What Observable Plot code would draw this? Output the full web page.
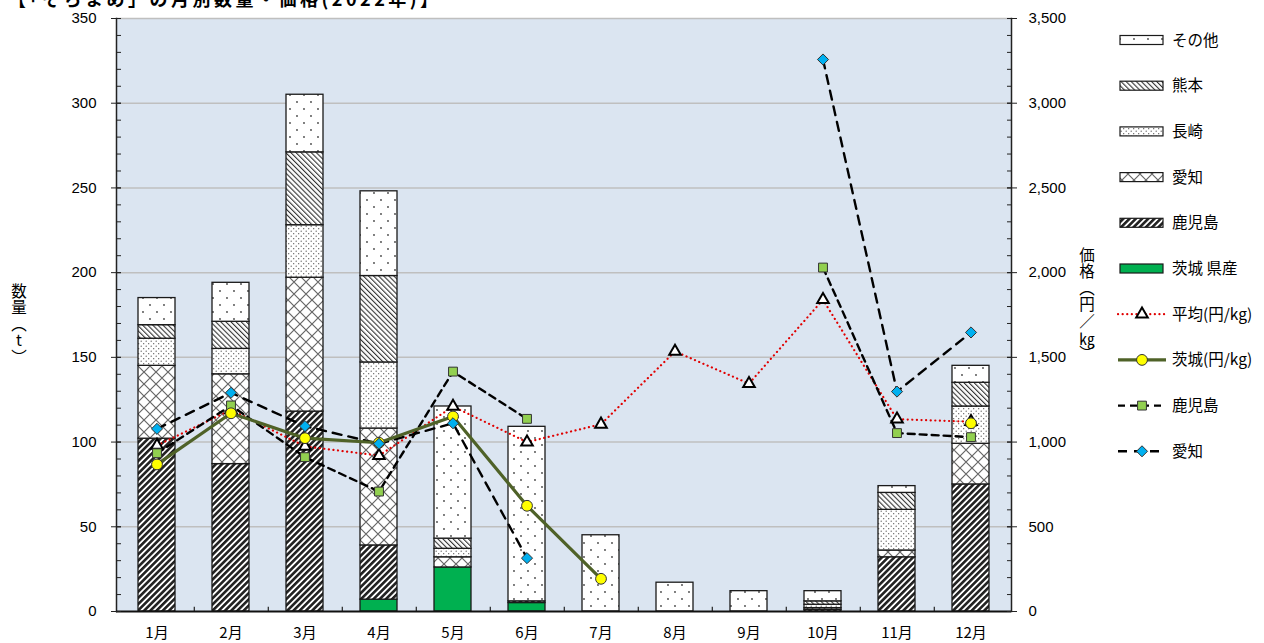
<!DOCTYPE html>
<html><head><meta charset="utf-8">
<script src="https://cdn.jsdelivr.net/npm/d3@7"></script>
<script src="https://cdn.jsdelivr.net/npm/@observablehq/plot@0.6"></script>
<style>
body{margin:0;background:#fff;overflow:hidden;font-family:"Liberation Sans","Noto Sans CJK JP",sans-serif;}
#wrap{position:relative;width:1264px;height:643px;overflow:hidden;}
#title{position:absolute;left:8px;top:-12px;font-family:"Noto Sans CJK JP";font-weight:bold;font-size:18px;letter-spacing:3.5px;line-height:20px;white-space:nowrap;z-index:2;}
#chart{position:absolute;left:0;top:0;}
.vlab{position:absolute;writing-mode:vertical-rl;text-orientation:upright;font-family:"Noto Sans CJK JP";font-size:15.5px;line-height:17px;letter-spacing:1px;}
#ylab{left:10px;top:283px;}
#y2lab{left:1078px;top:247px;}
#legend{position:absolute;left:1110px;top:0;}
</style></head><body>
<svg width="0" height="0" style="position:absolute"><defs>
<pattern id="pOther" width="14" height="14" patternUnits="userSpaceOnUse"><rect width="14" height="14" fill="#fff"/><circle cx="3" cy="4" r="0.9" fill="#444"/><circle cx="10" cy="11" r="0.9" fill="#444"/></pattern>
<pattern id="pKuma" width="3.6" height="3.6" patternUnits="userSpaceOnUse" patternTransform="rotate(-45)"><rect width="3.6" height="3.6" fill="#fff"/><rect width="1.1" height="3.6" fill="#333"/></pattern>
<pattern id="pNaga" width="5" height="5" patternUnits="userSpaceOnUse"><rect width="5" height="5" fill="#fff"/><circle cx="1.2" cy="1.2" r="0.65" fill="#555"/><circle cx="3.7" cy="3.7" r="0.65" fill="#555"/></pattern>
<pattern id="pAichi" width="12" height="12" patternUnits="userSpaceOnUse"><rect width="12" height="12" fill="#fff"/><path d="M0,0L12,12M12,0L0,12" stroke="#666" stroke-width="1.2"/></pattern>
<pattern id="pKago" width="4.4" height="4.4" patternUnits="userSpaceOnUse" patternTransform="rotate(45)"><rect width="4.4" height="4.4" fill="#fff"/><rect width="2.6" height="4.4" fill="#222"/></pattern>
</defs></svg>
<div id="wrap">
<div id="title">【「そらまめ」の月別数量・価格(2022年)】</div>
<div id="chart"></div>
<div id="ylab" class="vlab">数量（t）</div>
<div id="y2lab" class="vlab">価格（円／<span style="text-combine-upright:all">kg</span>）</div>
<div id="legend"></div>
</div>
<script>
// ---- data ----
const months = ["1月","2月","3月","4月","5月","6月","7月","8月","9月","10月","11月","12月"];
const seriesNames = ["茨城 県産","鹿児島","愛知","長崎","熊本","その他"];
const ibarakiT   = [0,0,0,7,26,5,0,0,0,0,0,0];
const kagoshimaT = [102,87,118,32,0,1,0,0,0,1,32,75];
const aichiT     = [43,53,79,69,6,0,0,0,0,1,4,24];
const nagasakiT  = [16,15,31,39,5,0,0,0,0,2,24,22];
const kumamotoT  = [8,16,43,51,6,0,0,0,0,2,10,14];
const otherT     = [16,23,34,50,78,103,45,17,12,6,4,10];
const avgPrice       = [980,1190,975,920,1210,1000,1105,1535,1345,1840,1135,1120];
const ibarakiPrice   = [868,1170,1023,996,1151,624,193,null,null,null,null,1111];
const kagoshimaPrice = [934,1216,911,708,1416,1137,null,null,null,2030,1053,1029];
const aichiPrice     = [1078,1291,1094,990,1111,315,null,null,null,3258,1298,1647];
const leftTicks = [0,50,100,150,200,250,300,350];
const priceTicks = [0,500,1000,1500,2000,2500,3000,3500];

// ---- layout ----
const W = 1264, H = 643, ML = 116, MR = 253, MT = 18, MB = 32;
const step = (W - ML - MR) / months.length;
const fills = ["#00b050","url(#pKago)","url(#pAichi)","url(#pNaga)","url(#pKuma)","url(#pOther)"];
const tonSeries = [ibarakiT,kagoshimaT,aichiT,nagasakiT,kumamotoT,otherT];
const bars = [];
months.forEach((m,i) => seriesNames.forEach((s,j) => {
  if (tonSeries[j][i] > 0) bars.push({month:m, series:s, value:tonSeries[j][i]});
}));
const ratio = 10; // right axis = left axis × 10
const price = arr => months.map((m,i) => ({month:m, v: arr[i] == null ? NaN : arr[i] / ratio}));
const pts = arr => price(arr).filter(d => !isNaN(d.v));
const fmt = d3.format(",");

const chart = Plot.plot({
  width: W, height: H, marginLeft: ML, marginRight: MR, marginTop: MT, marginBottom: MB,
  x: {type: "band", domain: months, paddingInner: 0.5, paddingOuter: 0.25, label: null},
  y: {domain: [0, 350], label: null},
  color: {type: "ordinal", domain: seriesNames, range: fills},
  style: {fontFamily: '"Liberation Sans","Noto Sans CJK JP",sans-serif', fontSize: "15px", color: "#000", background: "transparent", overflow: "visible"},
  marks: [
    Plot.frame({fill: "#dbe5f1"}),
    Plot.ruleY(d3.range(50, 351, 50), {stroke: "#bfbfbf", strokeWidth: 1.5}),
    Plot.barY(bars, {x: "month", y: "value", fill: "series", stroke: "#1a1a1a", strokeWidth: 1.3}),
    Plot.ruleX(months.slice(0, -1), {x: d => d, dx: step / 2, y1: 0, y2: 2.5, stroke: "#222", strokeWidth: 1.2}),
    // price lines
    Plot.line(price(avgPrice), {x: "month", y: "v", stroke: "#e00000", strokeWidth: 2.2, strokeDasharray: "0.1,4.5", strokeLinecap: "round"}),
    Plot.line(price(kagoshimaPrice), {x: "month", y: "v", stroke: "#000", strokeWidth: 2.4, strokeDasharray: "7,5"}),
    Plot.line(price(aichiPrice), {x: "month", y: "v", stroke: "#000", strokeWidth: 2.4, strokeDasharray: "9,7"}),
    Plot.line(price(ibarakiPrice), {x: "month", y: "v", stroke: "#4f6228", strokeWidth: 3.2}),
    Plot.dot(pts(avgPrice), {x: "month", y: "v", symbol: "triangle", r: 4.3, fill: "#fff", stroke: "#000", strokeWidth: 2}),
    Plot.dot(pts(kagoshimaPrice), {x: "month", y: "v", symbol: "square", r: 5, fill: "#92d050", stroke: "#333", strokeWidth: 1}),
    Plot.dot(pts(ibarakiPrice), {x: "month", y: "v", symbol: "circle", r: 5.4, fill: "#ffff00", stroke: "#333", strokeWidth: 1}),
    Plot.dot(pts(aichiPrice), {x: "month", y: "v", symbol: "diamond2", r: 5, fill: "#00b0f0", stroke: "#333", strokeWidth: 1}),
    // axes lines
    Plot.frame({anchor: "left", stroke: "#222", strokeWidth: 1.5}),
    Plot.frame({anchor: "right", stroke: "#222", strokeWidth: 1.5}),
    Plot.ruleY([0], {stroke: "#111", strokeWidth: 2}),
    // left axis
    Plot.axisY({anchor: "left", ticks: d3.range(0, 351, 10), tickSize: 5, dx: 5, tickFormat: () => "", label: null, stroke: "#222"}),
    Plot.axisY({anchor: "left", ticks: leftTicks, tickSize: 10, dx: 5, tickFormat: () => "", label: null, stroke: "#222"}),
    Plot.axisY({anchor: "left", ticks: leftTicks, tickSize: 0, tickPadding: 20, label: null, fontSize: 15}),
    // right axis (price / 10)
    Plot.axisY({anchor: "right", ticks: d3.range(0, 351, 10), tickSize: 5, dx: -5, tickFormat: () => "", label: null, stroke: "#222"}),
    Plot.axisY({anchor: "right", ticks: priceTicks.map(d => d / ratio), tickSize: 10, dx: -5, tickFormat: () => "", label: null, stroke: "#222"}),
    Plot.axisY({anchor: "right", ticks: priceTicks.map(d => d / ratio), tickSize: 0, tickPadding: 17, tickFormat: d => fmt(d * ratio), label: null, fontSize: 15}),
    // x axis labels
    Plot.axisX({tickSize: 0, tickPadding: 16, label: null, fontSize: 15, fontFamily: '"Noto Sans CJK JP"'})
  ]
});
document.getElementById("chart").appendChild(chart);

// ---- legend ----
const lg = d3.select("#legend").append("svg").attr("width", 154).attr("height", 480)
  .style("font-family", '"Noto Sans CJK JP"').style("font-size", "15.5px");
const legendItems = [
  {label: "その他", fill: "url(#pOther)"},
  {label: "熊本", fill: "url(#pKuma)"},
  {label: "長崎", fill: "url(#pNaga)"},
  {label: "愛知", fill: "url(#pAichi)"},
  {label: "鹿児島", fill: "url(#pKago)"},
  {label: "茨城 県産", fill: "#00b050"},
  {label: "平均(円/kg)", line: {stroke: "#e00000", w: 2.2, dash: "0.1,4.5", cap: "round"}, sym: {t: d3.symbolTriangle, size: 58, fill: "#fff", stroke: "#000", sw: 2}},
  {label: "茨城(円/kg)", line: {stroke: "#4f6228", w: 3.2}, sym: {t: d3.symbolCircle, size: 92, fill: "#ffff00", stroke: "#333", sw: 1}},
  {label: "鹿児島", line: {stroke: "#000", w: 2.4, dash: "7,5"}, sym: {t: d3.symbolSquare, size: 78, fill: "#92d050", stroke: "#333", sw: 1}},
  {label: "愛知", line: {stroke: "#000", w: 2.4, dash: "9,7"}, sym: {t: d3.symbolDiamond2, size: 78, fill: "#00b0f0", stroke: "#333", sw: 1}}
];
legendItems.forEach((it, i) => {
  const cy = 40 + i * 45.7;
  const g = lg.append("g");
  if (it.fill) {
    g.append("rect").attr("x", 10).attr("y", cy - 4.5).attr("width", 43).attr("height", 9)
      .attr("fill", it.fill).attr("stroke", "#1a1a1a").attr("stroke-width", 1.2);
  } else {
    g.append("line").attr("x1", 8).attr("x2", 56).attr("y1", cy).attr("y2", cy)
      .attr("stroke", it.line.stroke).attr("stroke-width", it.line.w)
      .attr("stroke-dasharray", it.line.dash || null).attr("stroke-linecap", it.line.cap || null);
    g.append("path").attr("transform", `translate(32,${cy})`)
      .attr("d", d3.symbol(it.sym.t, it.sym.size)())
      .attr("fill", it.sym.fill).attr("stroke", it.sym.stroke).attr("stroke-width", it.sym.sw);
  }
  g.append("text").attr("x", 62).attr("y", cy).attr("dy", "0.36em").text(it.label);
});
</script>
</body></html>
